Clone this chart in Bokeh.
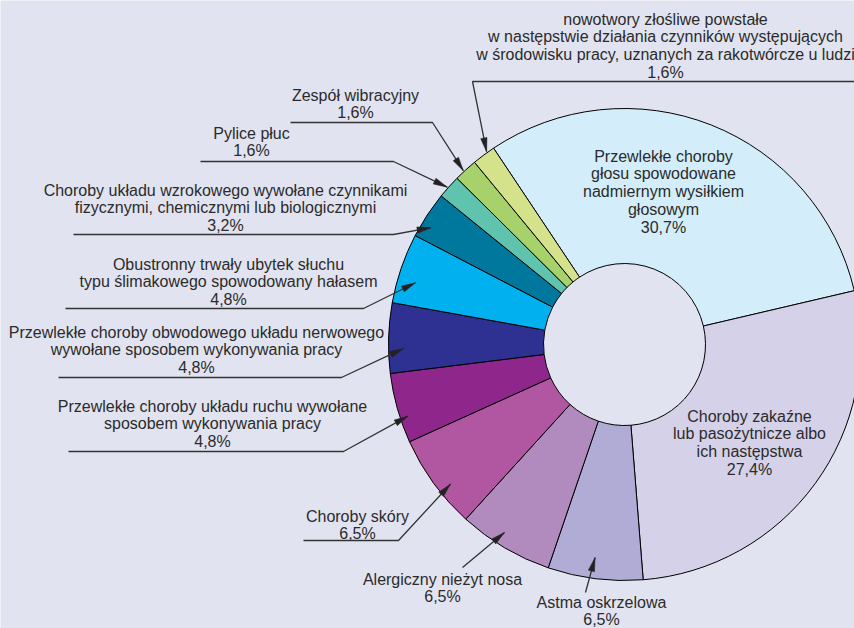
import numpy as np
from bokeh.plotting import figure
from bokeh.models import Range1d, ColumnDataSource
from bokeh.core.properties import value
from bokeh.embed import file_html
from bokeh.resources import INLINE

# ---------------- data ----------------
categories = [
    "Przewlekłe choroby\ngłosu spowodowane\nnadmiernym wysiłkiem\ngłosowym",
    "Choroby zakaźne\nlub pasożytnicze albo\nich następstwa",
    "Astma oskrzelowa",
    "Alergiczny nieżyt nosa",
    "Choroby skóry",
    "Przewlekłe choroby układu ruchu wywołane\nsposobem wykonywania pracy",
    "Przewlekłe choroby obwodowego układu nerwowego\nwywołane sposobem wykonywania pracy",
    "Obustronny trwały ubytek słuchu\ntypu ślimakowego spowodowany hałasem",
    "Choroby układu wzrokowego wywołane czynnikami\nfizycznymi, chemicznymi lub biologicznymi",
    "Pylice płuc",
    "Zespół wibracyjny",
    "nowotwory złośliwe powstałe\nw następstwie działania czynników występujących\nw środowisku pracy, uznanych za rakotwórcze u ludzi",
]
percent = [30.7, 27.4, 6.5, 6.5, 6.5, 4.8, 4.8, 4.8, 3.2, 1.6, 1.6, 1.6]
colors = ["#d3eefa", "#d5d1e8", "#b0acd5", "#b18abe", "#b157a2", "#8e268b",
          "#2e3192", "#00b0ef", "#00789d", "#5fc3ae", "#a6d16b", "#d4e38b"]

# ---------------- layout ----------------
BG = "#e1e3f0"
TXT = "#2b2b2b"
LINE = "#333333"
W, H = 854, 628


def sy(s):
    # page-pixel y (downwards) -> data y (upwards)
    return H - s


CX, CY = 624, sy(344)
R_OUT, R_IN = 236, 81
START_DEG = 123.7
LINE_GAP = 17.8
TEXT_SHIFT = -5.5

label_cx = [663, 749, 601, 442, 357, 212, 196, 228, 225, 251, 355, 665]
label_top = [161, 421, 607, 584, 521, 411, 337, 269, 195, 138, 100, 24]

# leader: (kind, geometry, tip angle offset deg, tip radius)
leaders = {
    2: ("line", (585, 592), -0.7, 215),
    3: ("line", (462, 567), -2.0, 223),
    4: ("under", (303, 398, 540), 2.7, 223),
    5: ("under", (68, 343, 451), 2.6, 228),
    6: ("under", (58, 341, 377), 2.6, 221),
    7: ("under", (65, 363, 308), 2.4, 218),
    8: ("under", (73, 393, 234), 2.1, 226),
    9: ("under", (200, 393, 161), 0.3, 237),
    10: ("under", (290, 432, 122), 0.5, 237),
    11: ("underL", (472, 870, 81), -1.0, 237),
}

# ---------------- computation ----------------
vals = np.array(percent, dtype=float)
spans = vals / vals.sum() * 2 * np.pi
start = np.deg2rad(START_DEG) - np.concatenate([[0.0], np.cumsum(spans)[:-1]])
end = start - spans
mid = (start + end) / 2

p = figure(width=W, height=H, output_backend="svg", toolbar_location=None,
           x_range=Range1d(0, W), y_range=Range1d(0, H),
           min_border=0, title=None,
           background_fill_color=BG, border_fill_color=BG)
p.xaxis.visible = False
p.yaxis.visible = False
p.grid.visible = False
p.outline_line_color = None

src = ColumnDataSource(dict(start=start, end=end, color=colors))
p.annular_wedge(x=CX, y=CY, inner_radius=R_IN, outer_radius=R_OUT,
                start_angle="start", end_angle="end", direction="clock",
                fill_color="color", line_color="black", line_width=1,
                source=src)

# leader lines and arrowheads
xs, ys, hx, hy = [], [], [], []
for i, (kind, geo, dang, rtip) in leaders.items():
    a = mid[i] + np.deg2rad(dang)
    tx, ty = CX + rtip * np.cos(a), CY + rtip * np.sin(a)
    if kind == "line":
        sx0, sy0 = geo[0], sy(geo[1])
        xs.append([sx0, tx]); ys.append([sy0, ty])
        ex, ey = sx0, sy0
    elif kind == "under":
        x0, x1, yy = geo
        xs.append([x0, x1, tx]); ys.append([sy(yy), sy(yy), ty])
        ex, ey = x1, sy(yy)
    else:
        x0, x1, yy = geo
        xs.append([x1, x0, tx]); ys.append([sy(yy), sy(yy), ty])
        ex, ey = x0, sy(yy)
    d = np.array([tx - ex, ty - ey])
    u = d / np.hypot(*d)
    n = np.array([-u[1], u[0]])
    L, HW = 14, 3.2
    b = np.array([tx, ty]) - L * u
    hx.append([tx, b[0] + HW * n[0], b[0] - HW * n[0]])
    hy.append([ty, b[1] + HW * n[1], b[1] - HW * n[1]])

p.multi_line(xs, ys, line_color=LINE, line_width=1.3)
p.patches(hx, hy, fill_color="#222222", line_color="#222222", line_width=0.5)

# labels
tx_, ty_, tt_ = [], [], []
for i, name in enumerate(categories):
    lines = name.split("\n") + [f"{percent[i]:.1f}".replace(".", ",") + "%"]
    for k, s in enumerate(lines):
        tx_.append(label_cx[i])
        ty_.append(sy(label_top[i] + TEXT_SHIFT + k * LINE_GAP))
        tt_.append(s)
p.text(x=tx_, y=ty_, text=tt_, text_align="center", text_baseline="alphabetic",
       text_font=value("Liberation Sans"), text_font_size="16px", text_color=TXT)

open("out.html", "w").write(file_html(p, INLINE))
